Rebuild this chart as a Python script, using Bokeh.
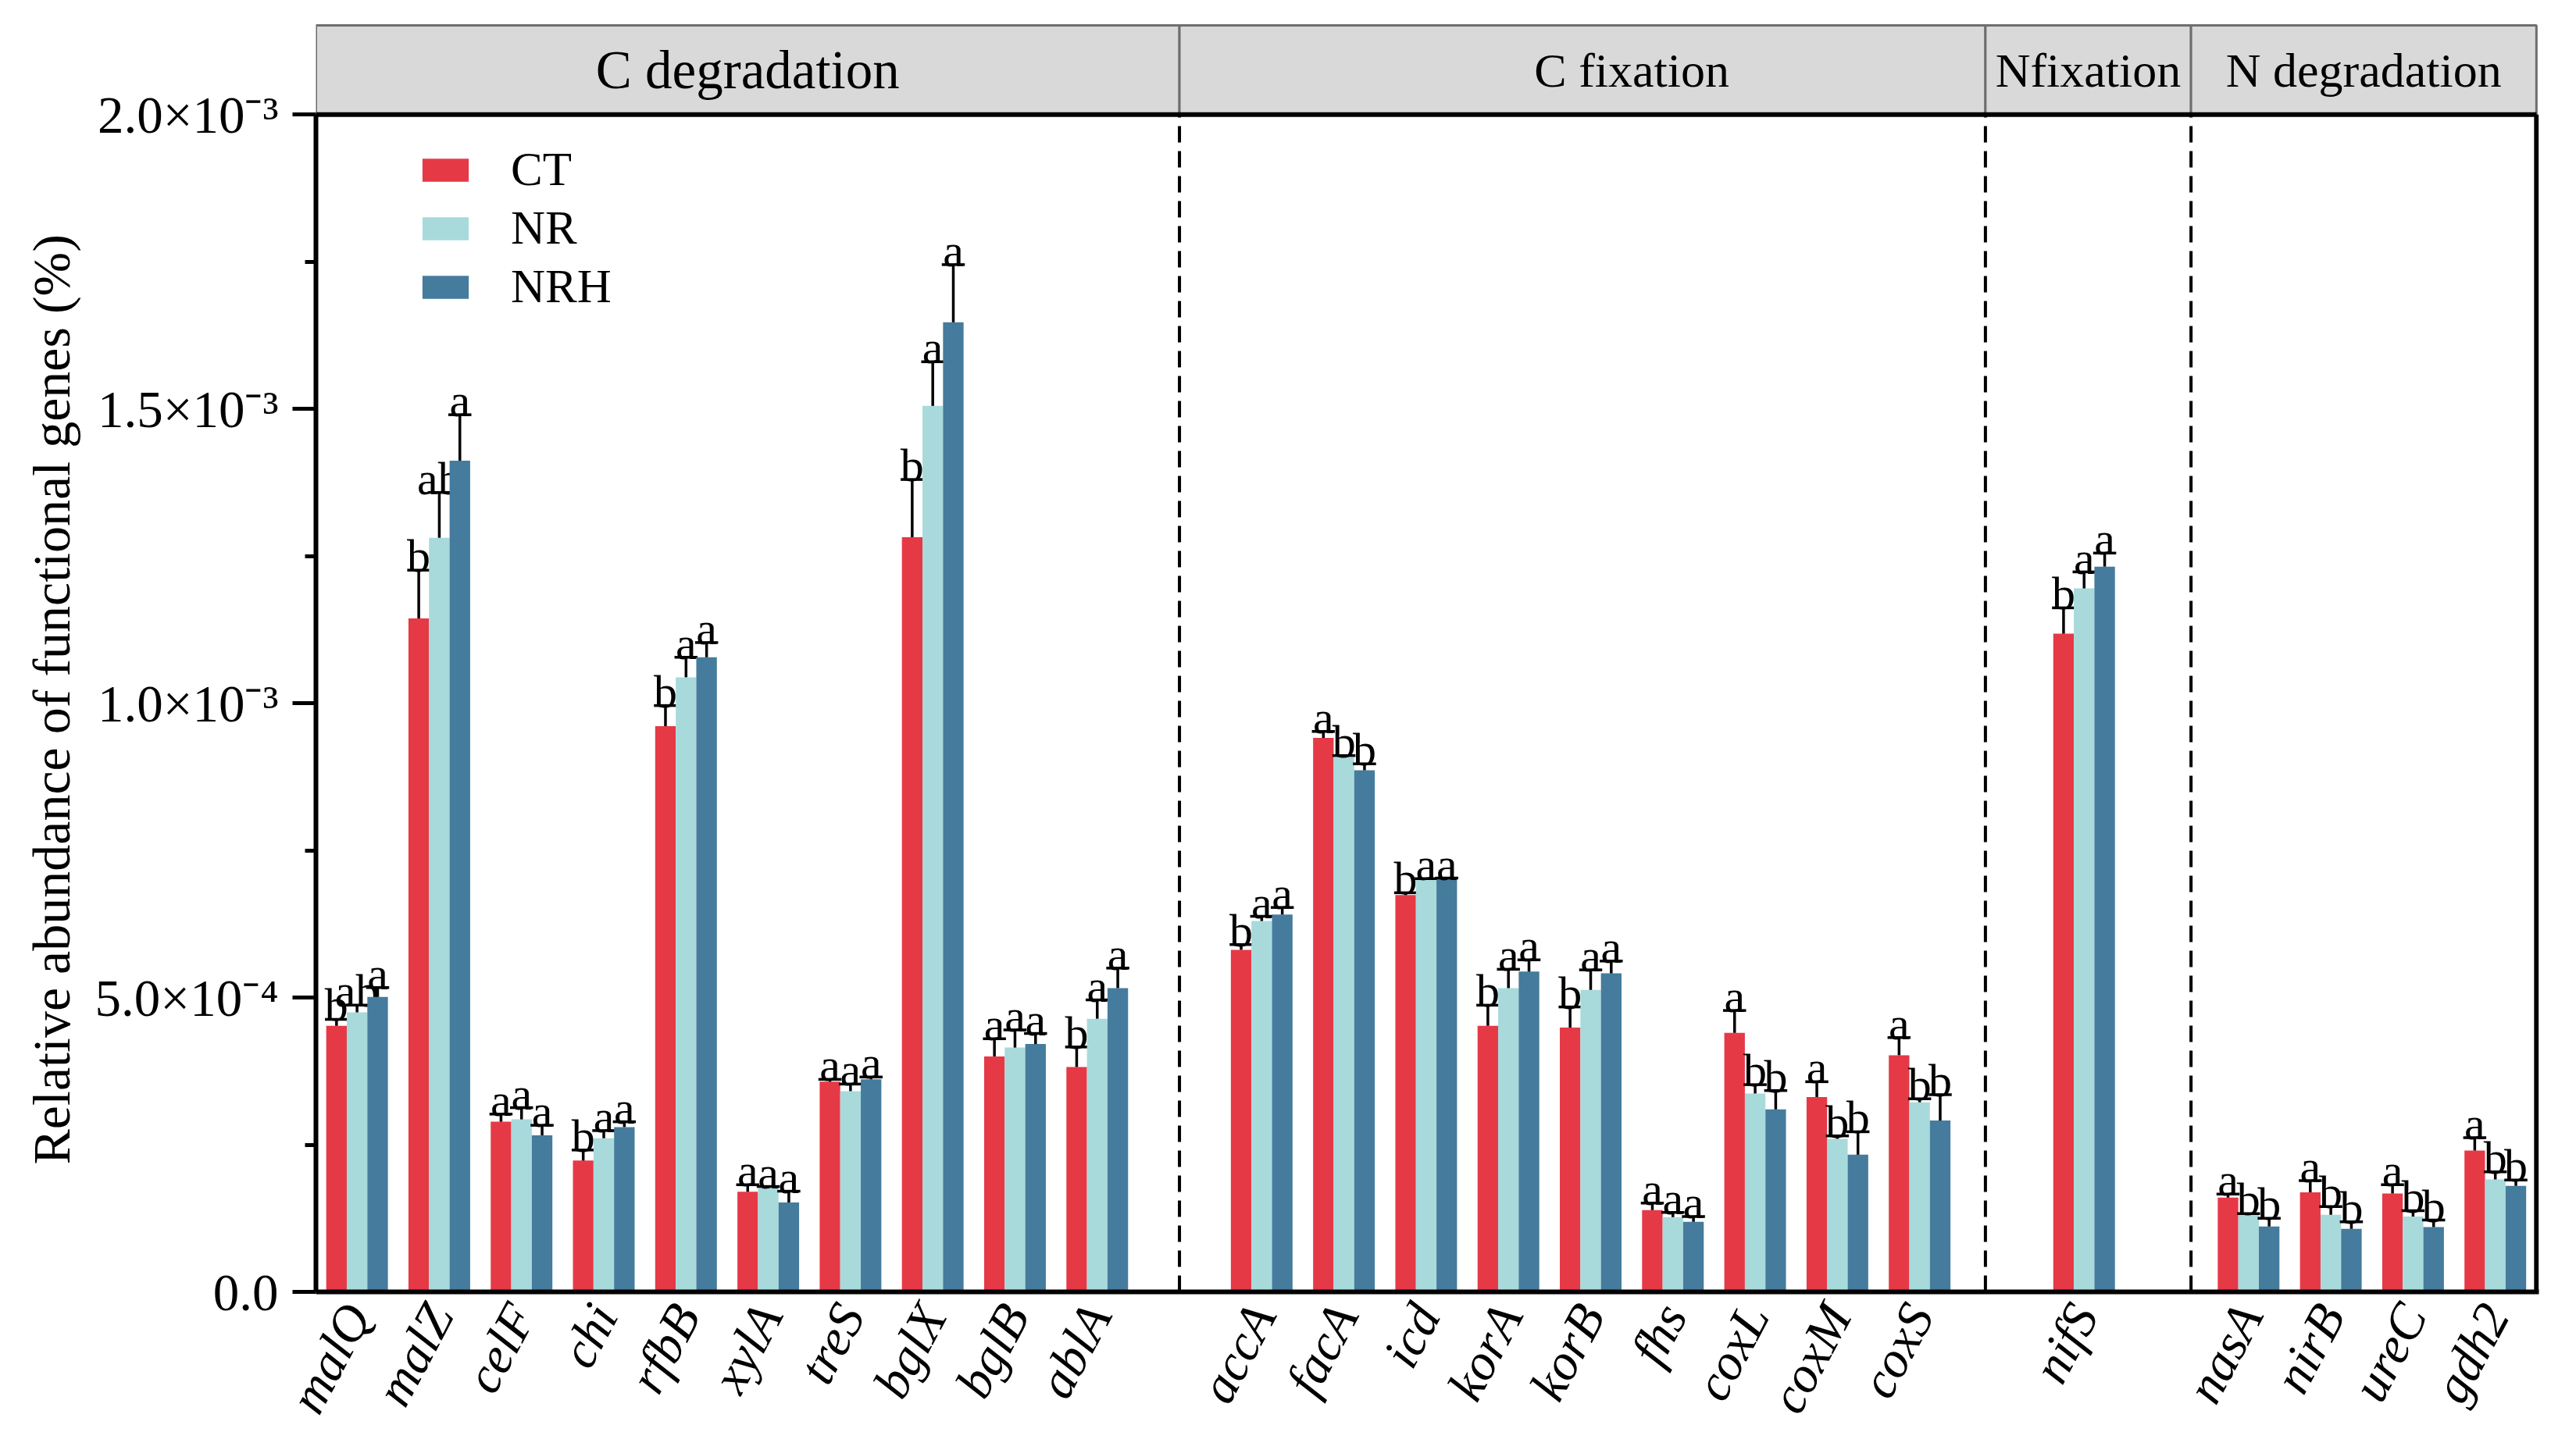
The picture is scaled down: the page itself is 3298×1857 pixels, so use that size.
import math
from bokeh.plotting import figure
from bokeh.models import (ColumnDataSource, FixedTicker, CustomJSTickFormatter,
                          Range1d, Legend, LegendItem, Title)
from bokeh.core.properties import value
from bokeh.embed import file_html
from bokeh.resources import INLINE

# ---------------- data ----------------
groups = ["C degradation", "C fixation", "Nfixation", "N degradation"]
genes_c_degradation = ["malQ", "malZ", "celF", "chi", "rfbB", "xylA", "treS", "bglX", "bglB", "ablA"]
genes_c_fixation = ["accA", "facA", "icd", "korA", "korB", "fhs", "coxL", "coxM", "coxS"]
genes_n_fixation = ["nifS"]
genes_n_degradation = ["nasA", "nirB", "ureC", "gdh2"]
group_genes = [genes_c_degradation, genes_c_fixation, genes_n_fixation, genes_n_degradation]

treatments = ["CT", "NR", "NRH"]
scale = 1e-4  # values below are in units of 1e-4 %

ct_mean = [4.52, 11.44, 2.89, 2.23, 9.61, 1.70, 3.57, 12.82, 4.00, 3.82,
           5.81, 9.41, 6.74, 4.52, 4.49, 1.39, 4.40, 3.31, 4.02,
           11.18,
           1.60, 1.69, 1.67, 2.40]
ct_err = [0.11, 0.82, 0.13, 0.18, 0.35, 0.12, 0.04, 0.98, 0.30, 0.34,
          0.09, 0.11, 0.04, 0.35, 0.35, 0.12, 0.38, 0.26, 0.30,
          0.44,
          0.06, 0.20, 0.15, 0.22]
nr_mean = [4.75, 12.81, 2.93, 2.61, 10.44, 1.76, 3.41, 15.05, 4.15, 4.64,
           6.30, 9.08, 7.00, 5.16, 5.13, 1.27, 3.37, 2.60, 3.22,
           11.95,
           1.31, 1.31, 1.28, 1.91]
nr_err = [0.12, 0.77, 0.20, 0.13, 0.34, 0.03, 0.12, 0.75, 0.30, 0.32,
          0.08, 0.03, 0.02, 0.32, 0.34, 0.08, 0.15, 0.05, 0.06,
          0.28,
          0.02, 0.14, 0.10, 0.13]
nrh_mean = [5.01, 14.12, 2.66, 2.80, 10.78, 1.52, 3.61, 16.47, 4.21, 5.16,
            6.41, 8.86, 7.01, 5.44, 5.41, 1.19, 3.10, 2.33, 2.91,
            12.32,
            1.11, 1.07, 1.10, 1.80]
nrh_err = [0.16, 0.78, 0.17, 0.09, 0.25, 0.19, 0.04, 0.98, 0.18, 0.34,
           0.12, 0.11, 0.02, 0.20, 0.21, 0.09, 0.32, 0.39, 0.44,
           0.23,
           0.14, 0.12, 0.12, 0.10]

ct_letters = ["b", "b", "a", "b", "b", "a", "a", "b", "a", "b",
              "b", "a", "b", "b", "b", "a", "a", "a", "a",
              "b",
              "a", "a", "a", "a"]
nr_letters = ["ab", "ab", "a", "a", "a", "a", "a", "a", "a", "a",
              "a", "b", "a", "a", "a", "a", "b", "b", "b",
              "a",
              "b", "b", "b", "b"]
nrh_letters = ["a", "a", "a", "a", "a", "a", "a", "a", "a", "a",
               "a", "b", "a", "a", "a", "a", "b", "b", "b",
               "a",
               "b", "b", "b", "b"]

y_tick_values = [0.0, 5e-4, 1e-3, 1.5e-3, 2e-3]
y_tick_labels = ["0.0", "5.0×10⁻⁴", "1.0×10⁻³", "1.5×10⁻³", "2.0×10⁻³"]
y_minor_ticks = [2.5e-4, 7.5e-4, 1.25e-3, 1.75e-3]
y_title = "Relative abundance of functional genes (%)"

colors = ["#E63946", "#A8DADC", "#457B9D"]

# ---------------- layout ----------------
FONT = "Liberation Serif"
PX_PER_UNIT = 756250.0          # screen px per 1 (%) on the y axis
genes, xpos = [], []
slot = 0
for gg in group_genes:
    for g in gg:
        genes.append(g)
        xpos.append(slot + 0.5)
        slot += 1
    slot += 1
x_end = 27.0
separators = [10.5, 20.3, 22.8]
strip_edges = [0.0] + separators + [x_end]
strip_text_x = [5.25, 16.0, 21.55, 24.9]
strip_text_size = ["69px", "62px", "62px", "62px"]

FRAME_H = 1629
y_max = 2e-3
y_top = FRAME_H / PX_PER_UNIT
strip_top = y_max + 114.5 / PX_PER_UNIT
letter_gap = 18 / PX_PER_UNIT

bw = 0.25
offsets = [-bw, 0.0, bw]
means = [ct_mean, nr_mean, nrh_mean]
errs = [ct_err, nr_err, nrh_err]
letters = [ct_letters, nr_letters, nrh_letters]

p = figure(width=3282, height=1841, x_range=Range1d(0, x_end + 0.03),
           y_range=Range1d(0, y_top), output_backend="svg", toolbar_location=None,
           min_border_left=404, min_border_right=32, min_border_top=30,
           min_border_bottom=1841 - 30 - FRAME_H)
p.outline_line_color = None
p.xgrid.visible = False
p.ygrid.visible = False
p.background_fill_color = "white"
p.border_fill_color = "white"

# strips
p.quad(left=strip_edges[:-1], right=strip_edges[1:], bottom=y_max, top=strip_top,
       fill_color="#D9D9D9", line_color="#6E6E6E", line_width=3)
p.text(x=strip_text_x, y=[(y_max + strip_top) / 2] * 4, text=groups,
       text_font=value(FONT), text_font_size=strip_text_size, text_align="center",
       text_baseline="middle", text_color="black")

# separators
p.segment(x0=separators, y0=[0] * 3, x1=separators, y1=[y_max] * 3,
          line_color="black", line_width=4, line_dash="21 11")

renderers = []
for k in range(3):
    xs = [x + offsets[k] for x in xpos]
    tops = [m * scale for m in means[k]]
    upp = [(m + e) * scale for m, e in zip(means[k], errs[k])]
    src = ColumnDataSource(dict(x=xs, top=tops, upp=upp, lab=letters[k],
                                ly=[u + letter_gap for u in upp],
                                cl=[x - 0.14 for x in xs], cr=[x + 0.14 for x in xs]))
    r = p.vbar(x="x", top="top", width=bw, bottom=0, source=src,
               fill_color=colors[k], line_color=None)
    renderers.append(r)
    p.segment(x0="x", y0="top", x1="x", y1="upp", source=src,
              line_color="black", line_width=3.5)
    p.segment(x0="cl", y0="upp", x1="cr", y1="upp", source=src,
              line_color="black", line_width=3.5)
    p.text(x="x", y="ly", text="lab", source=src, text_font=value(FONT),
           text_font_size="60px", text_align="center", text_baseline="alphabetic",
           text_color="black")

# frame top and right borders
p.segment(x0=[0, x_end], y0=[y_max, 0], x1=[x_end, x_end], y1=[y_max, y_max],
          line_color="black", line_width=6)

# axes
p.yaxis.ticker = FixedTicker(ticks=y_tick_values, minor_ticks=y_minor_ticks)
p.yaxis.formatter = CustomJSTickFormatter(
    args=dict(tv=y_tick_values, tl=y_tick_labels),
    code="for (let i = 0; i < tv.length; i++) { if (Math.abs(tv[i] - tick) < 1e-9) return tl[i]; } return '';")
p.yaxis.bounds = (0, y_max)
p.yaxis.axis_line_width = 6
p.yaxis.major_tick_line_width = 5
p.yaxis.minor_tick_line_width = 5
p.yaxis.major_tick_out = 30
p.yaxis.major_tick_in = 0
p.yaxis.minor_tick_out = 14
p.yaxis.minor_tick_in = 0
p.yaxis.major_label_standoff = 18
p.yaxis.major_label_text_font = FONT
p.yaxis.major_label_text_font_size = "67px"
p.yaxis.major_label_text_color = "black"

# y title: text starts 163 px above the frame bottom (centred on 1e-3)
ytitle = Title(text=y_title, align="left", offset=163,
               standoff=30, text_font=FONT, text_font_size="68px",
               text_font_style="normal", text_color="black")
p.add_layout(ytitle, "left")

p.xaxis.ticker = FixedTicker(ticks=xpos, minor_ticks=[])
p.xaxis.formatter = CustomJSTickFormatter(
    args=dict(pos=xpos, names=genes),
    code="for (let i = 0; i < pos.length; i++) { if (Math.abs(pos[i] - tick) < 1e-6) return names[i]; } return '';")
p.xaxis.axis_line_width = 6
p.xaxis.major_tick_out = 0
p.xaxis.major_tick_in = 0
p.xaxis.minor_tick_out = 0
p.xaxis.major_label_orientation = math.radians(62)
p.xaxis.major_label_standoff = 20
p.xaxis.major_label_text_font = FONT
p.xaxis.major_label_text_font_size = "66px"
p.xaxis.major_label_text_font_style = "italic"
p.xaxis.major_label_text_color = "black"

legend = Legend(items=[LegendItem(label=t, renderers=[r]) for t, r in zip(treatments, renderers)],
                location=(129, 1251), padding=0, margin=0, spacing=3,
                glyph_width=74, glyph_height=37, label_height=72, label_standoff=47,
                label_text_font=FONT, label_text_font_size="61px", label_text_color="black",
                border_line_color=None, background_fill_alpha=0)
p.add_layout(legend)

open("out.html", "w").write(file_html(p, INLINE))
